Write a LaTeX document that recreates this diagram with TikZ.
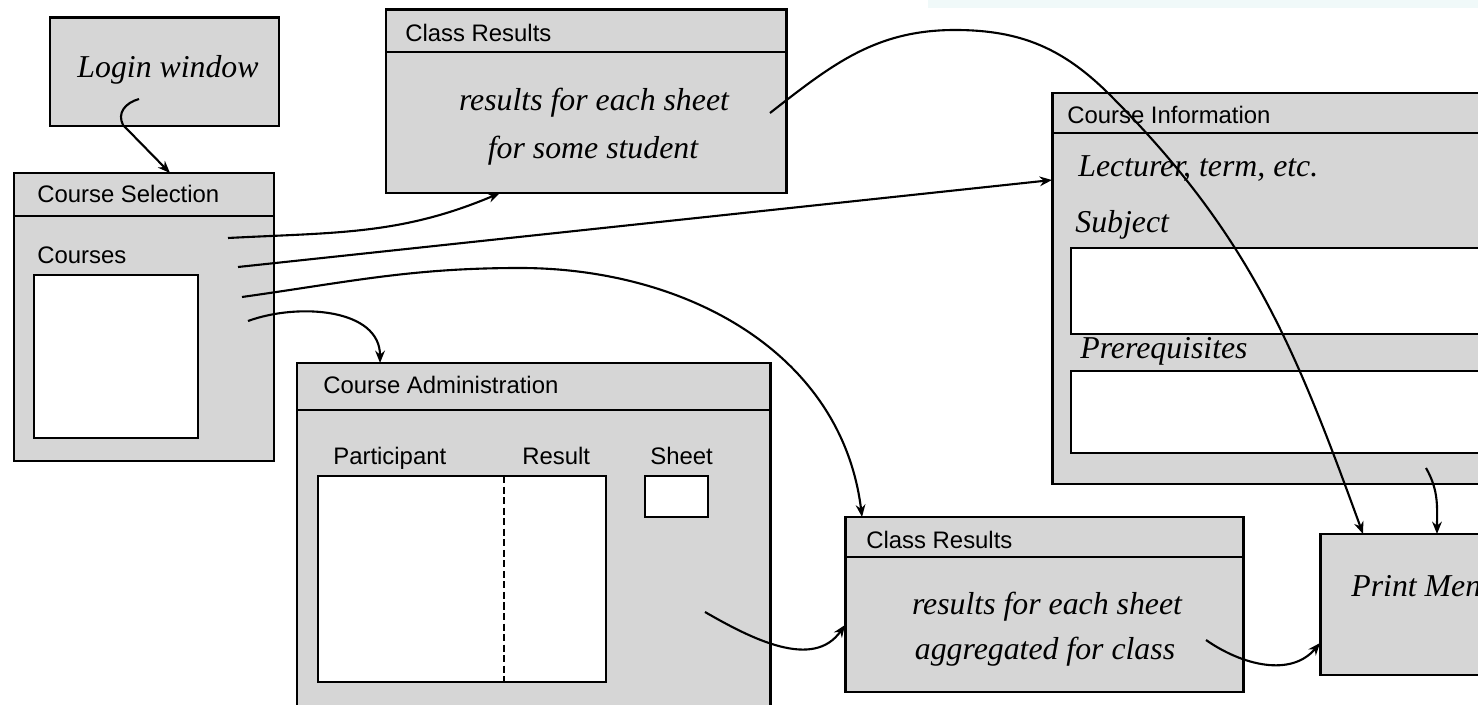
\documentclass[tikz,border=0pt]{standalone}
\usepackage{fontspec}
\setmainfont{Liberation Serif}
\setsansfont{Liberation Sans}
\usetikzlibrary{arrows.meta,fit}
\definecolor{boxgray}{RGB}{214,214,214}
\definecolor{bandcyan}{RGB}{240,249,249}
\tikzset{
 win/.style={draw, line width=1.7pt, fill=boxgray, inner sep=0pt, outer sep=0pt},
 field/.style={draw, line width=1.3pt, fill=white, inner sep=0pt, outer sep=0pt},
 hdr/.style={line width=1.7pt},
 title/.style={font=\sffamily\fontsize{13.6}{16}\selectfont, inner sep=0pt, anchor=base west},
 itx/.style={font=\itshape\fontsize{18.1}{22}\selectfont, inner sep=0pt},
 conn/.style={line width=1.2pt, -{Stealth[length=7pt,width=5.5pt]}},
}
\begin{document}
\begin{tikzpicture}[x=0.02cm,y=-0.02cm]
\useasboundingbox (0,0) rectangle (1478,705);
\clip (0,0) rectangle (1478,705);
\fill[white] (0,0) rectangle (1478,705);
\fill[bandcyan] (928,0) rectangle (1478,8);

% Login window
\node[win, fit={(50,18)(279,126)}] (login) {};
\node[itx, anchor=base] (logintxt) at (168,78) {Login window};

% Course Selection
\node[win, fit={(14,173)(274,461)}] (cs) {};
\draw[hdr] (14,216) -- (274,216);
\node[title] (cstitle) at (37,203) {Course Selection};
\node[title] (cscourses) at (37,264) {Courses};
\node[field, fit={(34,275)(198,438)}] (cslist) {};

% Class Results (top)
\node[win, fit={(386,10)(786,193)}] (cr1) {};
\draw[hdr] (386,52) -- (786,52);
\node[title] (cr1title) at (405,42) {Class Results};
\node[itx, anchor=base] (cr1a) at (594,111) {results for each sheet};
\node[itx, anchor=base] (cr1b) at (593,159) {for some student};

% Course Information
\node[win, fit={(1052,93)(1500,484)}] (ci) {};
\draw[hdr] (1052,133) -- (1500,133);
\node[title] (cititle) at (1067,124) {Course Information};
\node[itx, anchor=base west] (cilect) at (1078,177) {Lecturer, term, etc.};
\node[itx, anchor=base west] (cisubj) at (1075,233) {Subject};
\node[field, fit={(1071,248)(1500,334)}] (cisubjbox) {};
\node[itx, anchor=base west] (ciprereq) at (1080,359) {Prerequisites};
\node[field, fit={(1071,371)(1500,453)}] (ciprebox) {};

% Course Administration
\node[win, fit={(297,363)(770,730)}] (ca) {};
\draw[hdr] (297,410) -- (770,410);
\node[title] (catitle) at (323,394) {Course Administration};
\node[title] (capart) at (333,465) {Participant};
\node[title] (cares) at (522,465) {Result};
\node[title] (casheet) at (650,465) {Sheet};
\node[field, fit={(318,476)(606,682)}] (catable) {};
\draw[line width=1.3pt, dash pattern=on 4pt off 2pt] (504,476) -- (504,682);
\node[field, fit={(645,476)(708,517)}] (casheetbox) {};

% Class Results (bottom)
\node[win, fit={(845,517)(1243,692)}] (cr2) {};
\draw[hdr] (845,557) -- (1243,557);
\node[title] (cr2title) at (866,549) {Class Results};
\node[itx, anchor=base] (cr2a) at (1047,615) {results for each sheet};
\node[itx, anchor=base] (cr2b) at (1045,660) {aggregated for class};

% Print Menu (cut off at the right edge, as in the reference)
\node[win, fit={(1320,534)(1500,675)}] (pm) {};
\node[itx, anchor=base west] (pmtxt) at (1351,597) {Print Menu};

% connector start points
\coordinate (s-login) at (139,99);
\coordinate (s-cs1) at (228,238);
\coordinate (s-cs2) at (238,267);
\coordinate (s-cs3) at (242,297);
\coordinate (s-cs4) at (248,321);
\coordinate (s-cr1) at (770,113);
\coordinate (s-ca) at (705,612);
\coordinate (s-cr2) at (1206,640);
\coordinate (s-ci) at (1426,468);

% connectors
\draw[conn] (s-login) .. controls (125,103) and (117,113) .. (123,125) -- ([xshift=0.52cm]cs.north);
\draw[conn] (s-cs1) to[out=3,in=203] ([xshift=-1.72cm]cr1.south);
\draw[conn] (s-cs2) -- ([yshift=2.17cm]ci.west);
\draw[conn] (s-cs3) to[out=8,in=180] (520,268) to[out=0,in=97] ([xshift=-3.64cm]cr2.north);
\draw[conn] (s-cs4) to[out=20,in=90] ([xshift=-3.07cm]ca.north);
\draw[conn] (s-cr1) to[out=38,in=180] (955,30) to[out=0,in=135] (1110,95) to[out=-45,in=110] ([xshift=-0.94cm]pm.north);
\draw[conn] (s-ca) to[out=-30,in=235] ([yshift=-0.41cm]cr2.west);
\draw[conn] (s-cr2) to[out=-35,in=230] ([yshift=-0.77cm]pm.west);
\draw[conn] (s-ci) to[out=-60,in=90] ([xshift=0.54cm]pm.north);
\end{tikzpicture}
\end{document}
